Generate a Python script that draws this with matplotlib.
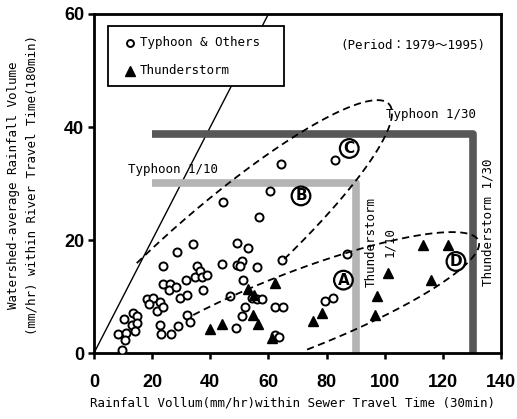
import numpy as np
import matplotlib
matplotlib.use('Agg')
import matplotlib.pyplot as plt
from matplotlib.patches import Rectangle

# ---------------- data ----------------
typhoon_x = [33.9, 28.4, 23.8, 35.3, 23.6, 26.1, 25.7, 28.2, 31.6, 34.9, 29.6, 31.9,
             18.1, 20.2, 19.0, 22.7, 21.6, 23.8, 31.9, 33.0, 13.5, 14.7, 10.4, 13.0,
             14.7, 14.1, 22.7, 23.0, 26.5, 29.0, 8.4, 11.0, 10.7, 9.5,
             36.6, 37.2, 39.0, 37.6,
             43.9, 49.1, 53.1, 49.1, 50.8, 50.2, 56.0, 51.4, 64.5, 46.8, 54.2, 56.0,
             57.7, 51.9, 50.8, 62.3, 65.1, 48.7, 62.3, 63.7, 86.9, 79.5, 82.3,
             64.2, 82.9, 60.5, 44.5, 56.8]
typhoon_y = [19.3, 17.8, 15.4, 15.4, 12.2, 12.3, 11.2, 11.6, 12.9, 13.5, 9.7, 10.3,
             9.6, 9.7, 8.7, 9.1, 7.5, 8.1, 6.7, 5.5, 7.0, 6.5, 6.0, 5.0,
             5.3, 3.9, 5.0, 3.3, 3.3, 4.8, 3.3, 3.5, 2.3, 0.6,
             14.6, 13.4, 13.8, 11.2,
             15.8, 19.5, 18.6, 15.6, 16.2, 15.4, 15.3, 13.0, 16.5, 10.1, 9.7, 9.6,
             9.6, 8.2, 6.6, 8.1, 8.2, 4.4, 3.2, 2.8, 17.5, 9.2, 9.7,
             33.4, 34.2, 28.7, 26.8, 24.0]

storm_x = [40.0, 44.1, 52.9, 54.9, 54.6, 56.3, 62.2, 61.2, 75.2, 78.5,
           96.7, 97.5, 101.0, 113.0, 121.7, 115.9]
storm_y = [4.2, 5.1, 11.3, 10.3, 6.8, 5.2, 12.4, 2.6, 5.7, 7.0,
           6.7, 10.1, 14.1, 19.1, 19.1, 13.0]

x_ticks = [0, 20, 40, 60, 80, 100, 120, 140]
y_ticks = [0, 20, 40, 60]

# threshold frames (Typhoon / Thunderstorm return periods)
t10_x = [20, 90, 90]
t10_y = [30, 30, 0]
t30_x = [20, 130.5, 130.5]
t30_y = [38.8, 38.8, 0]

# 1:1 reference line
ref_x = [0, 60]
ref_y = [0, 60]

# dashed outlines
e1_x = [14.1, 29.6, 32.0, 44.5, 57.1, 68.6, 90.8, 96.7, 101.5, 102.9, 100.4, 96.0, 83.9, 73.3, 70.9, 64.0]
e1_y = [15.9, 23.2, 24.8, 28.0, 33.6, 37.7, 45.3, 45.7, 44.6, 43.4, 40.0, 35.9, 27.1, 20.0, 18.8, 16.5]
e2_x = [32.3, 36.5, 46.2, 67.4, 89.2, 101.8, 108.0, 127.5, 132.1, 133.4, 129.8, 120.6, 102.2, 96.7, 73.2, 72.5]
e2_y = [6.7, 7.6, 9.1, 14.4, 17.0, 20.3, 20.9, 21.2, 19.4, 18.5, 15.9, 13.8, 7.0, 5.8, 0.8, 0.2]

group_labels = ['A', 'B', 'C', 'D']
group_x = [85.8, 71.2, 87.8, 124.5]
group_y = [12.9, 27.8, 36.2, 16.2]

MONO = ['DejaVu Sans Mono', 'Noto Sans CJK JP']
SX, SY = 2.907, 5.65   # display proportions used for fitting


def fit_arc(xs, ys, n=500):
    X = np.asarray(xs, float) * SX
    Y = np.asarray(ys, float) * SY
    mx, my = X.mean(), Y.mean()
    s = max(X.std(), Y.std())
    u = (X - mx) / s
    v = (Y - my) / s
    D1 = np.column_stack([u * u, u * v, v * v])
    D2 = np.column_stack([u, v, np.ones_like(u)])
    S1 = D1.T @ D1
    S2 = D1.T @ D2
    S3 = D2.T @ D2
    T = -np.linalg.solve(S3, S2.T)
    M = S1 + S2 @ T
    M = np.array([M[2] / 2.0, -M[1], M[0] / 2.0])
    w, V = np.linalg.eig(M)
    V = np.real(V)
    cond = 4 * V[0] * V[2] - V[1] ** 2
    idx = np.where(cond > 0)[0][0]
    a1 = V[:, idx]
    a, b, c, d, e, f = np.concatenate([a1, T @ a1])
    x0, y0 = np.linalg.solve([[2 * a, b], [b, 2 * c]], [-d, -e])
    fp = a * x0 * x0 + b * x0 * y0 + c * y0 * y0 + d * x0 + e * y0 + f
    Q = np.array([[a, b / 2], [b / 2, c]])
    ev, EV = np.linalg.eigh(Q)
    r = np.sqrt(-fp / ev)

    def tpar(px, py):
        p = np.array([px - x0, py - y0]) @ EV
        return np.arctan2(p[1] / r[1], p[0] / r[0])

    two = 2 * np.pi
    ts = tpar(u[0], v[0])
    te = tpar(u[-1], v[-1])
    tm = tpar(u[len(u) // 2], v[len(v) // 2])
    d_end = (te - ts) % two
    d_mid = (tm - ts) % two
    if d_mid < d_end:
        t = np.linspace(ts, ts + d_end, n)
    else:
        t = np.linspace(ts, ts - (two - d_end), n)
    P = (np.array([x0, y0])[:, None] + EV[:, [0]] * r[0] * np.cos(t)
         + EV[:, [1]] * r[1] * np.sin(t))
    return (P[0] * s + mx) / SX, (P[1] * s + my) / SY


fig = plt.figure(figsize=(5.17, 4.19), dpi=100)
ax = fig.add_axes([94 / 517, 66 / 419, 407 / 517, 339 / 419])
ax.set_xlim(0, 140)
ax.set_ylim(0, 60)

ax.plot(ref_x, ref_y, color='black', lw=1.0, zorder=1)
ax.plot(t30_x, t30_y, color='#575757', lw=5.5, solid_joinstyle='round',
        solid_capstyle='butt', zorder=2)
ax.plot(t10_x, t10_y, color='#b4b4b4', lw=5.5, solid_joinstyle='round',
        solid_capstyle='butt', zorder=2)

ax.plot(typhoon_x, typhoon_y, ls='none', marker='o', ms=5.8, mfc='white',
        mec='black', mew=1.4, zorder=3)
ax.plot(storm_x, storm_y, ls='none', marker='^', ms=7.5, color='black', zorder=3)

for ex, ey in ((e1_x, e1_y), (e2_x, e2_y)):
    px, py = fit_arc(ex, ey)
    ax.plot(px, py, color='black', lw=1.3, ls=(0, (4, 2.5)), zorder=4)

for s, x, y in zip(group_labels, group_x, group_y):
    ax.text(x, y, s, ha='center', va='center', fontsize=11, fontweight='bold',
            family='DejaVu Sans', zorder=6,
            bbox=dict(boxstyle='circle,pad=0.12', fc='white', ec='black', lw=1.6))

ax.text(11.7, 32.4, 'Typhoon 1/10', family=MONO, fontsize=9, va='center', ha='left', zorder=6)
ax.text(100.4, 42.3, 'Typhoon 1/30', family=MONO, fontsize=9, va='center', ha='left', zorder=6)
ax.text(98.6, 19.6, 'Thunderstorm\n1/10', family=MONO, fontsize=9, rotation=90,
        ha='center', va='center', multialignment='center', linespacing=1.5, zorder=6)
ax.text(135.5, 23.2, 'Thunderstorm 1/30', family=MONO, fontsize=9, rotation=90,
        ha='center', va='center', zorder=6)
ax.text(84.6, 54.5, '(Period：1979～1995)', family=MONO, fontsize=9,
        va='center', ha='left', zorder=6)

# legend box
ax.add_patch(Rectangle((0.0344, 0.7876), 0.4324, 0.177, transform=ax.transAxes,
                       fc='white', ec='black', lw=1.3, zorder=5))
ax.plot([0.0885], [0.9145], transform=ax.transAxes, ls='none', marker='o', ms=5,
        mfc='white', mec='black', mew=1.4, zorder=6, clip_on=False)
ax.text(0.113, 0.9145, 'Typhoon & Others', transform=ax.transAxes, family=MONO,
        fontsize=9, va='center', ha='left', zorder=6)
ax.plot([0.0885], [0.8319], transform=ax.transAxes, ls='none', marker='^', ms=7,
        color='black', zorder=6, clip_on=False)
ax.text(0.113, 0.8319, 'Thunderstorm', transform=ax.transAxes, family=MONO,
        fontsize=9, va='center', ha='left', zorder=6)

ax.set_xticks(x_ticks)
ax.set_yticks(y_ticks)
ax.set_xticklabels([str(v) for v in x_ticks])
ax.set_yticklabels([str(v) for v in y_ticks])
ax.tick_params(direction='out', length=4, width=1.8, labelsize=13)
ax.tick_params(axis='x', pad=11)
ax.tick_params(axis='y', pad=3)
for lab in ax.get_xticklabels() + ax.get_yticklabels():
    lab.set_family('Liberation Sans')
    lab.set_fontweight('bold')
for sp in ax.spines.values():
    sp.set_linewidth(2.0)

fig.text(293 / 517, 1 - 403 / 419,
         'Rainfall Vollum(mm/hr)within Sewer Travel Time (30min)',
         ha='center', va='center', family=MONO, fontsize=9)
fig.text(23 / 517, 1 - 185 / 419,
         'Watershed-average Rainfall Volume\n(mm/hr) within River Travel Time(180min)',
         rotation=90, ha='center', va='center', multialignment='center',
         family=MONO, fontsize=9, linespacing=1.5)

fig.savefig('out.png', dpi=100)
